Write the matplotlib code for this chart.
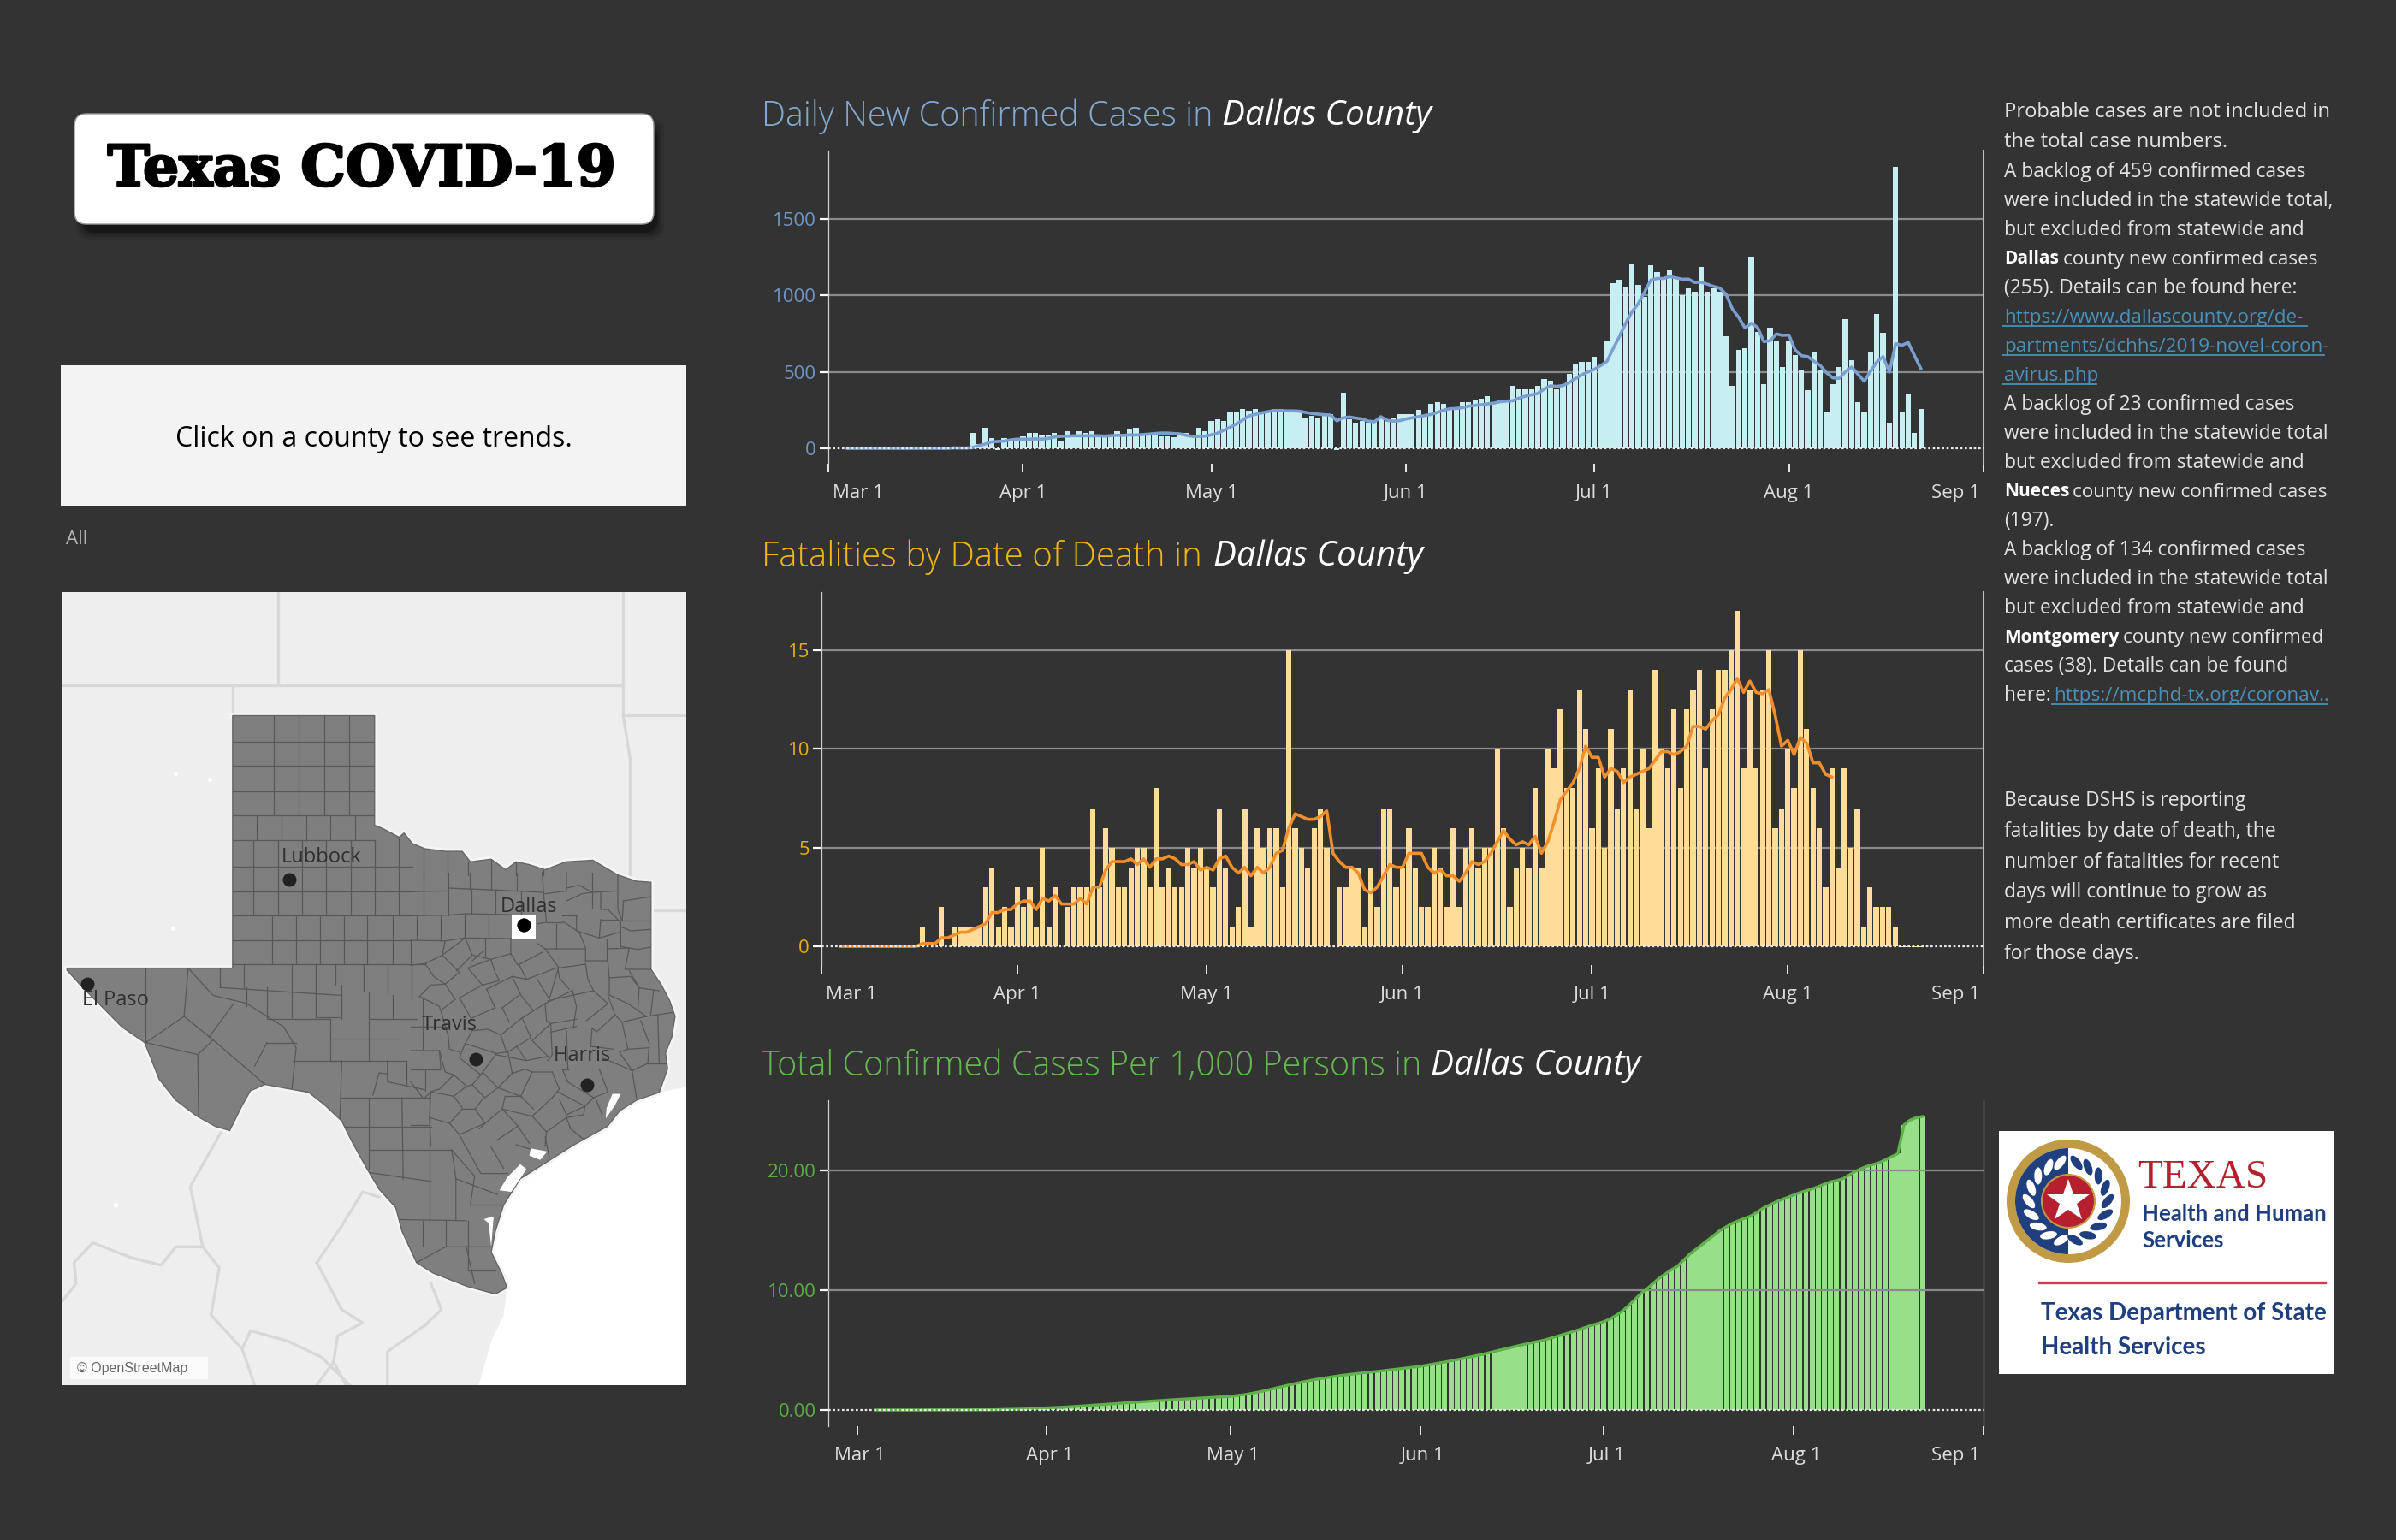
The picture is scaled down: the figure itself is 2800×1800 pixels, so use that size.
import numpy as np
import matplotlib
matplotlib.use('Agg')
import matplotlib.pyplot as plt
import matplotlib.patheffects as pe
from matplotlib.patches import FancyBboxPatch, Rectangle, Circle, Wedge, Ellipse, Polygon
from matplotlib.transforms import ScaledTranslation

plt.rcParams['font.family'] = ['Open Sans', 'DejaVu Sans']

W, H = 2800, 1800
BG = '#333333'

month_days = [0, 31, 61, 92, 122, 153, 184]
month_labels = ['Mar 1', 'Apr 1', 'May 1', 'Jun 1', 'Jul 1', 'Aug 1', 'Sep 1']

# days since Mar 1
case_days = np.arange(3, 175)
new_cases = [
    0, 0, 0, 0, 0, 0, 0, 0, 0, 0, 0, 0, 0, 0, 10, 3, 3, 10, 5, 3,
    100, 30, 133, 65, -10, 65, 60, 60, 78, 100, 100, 87, 87, 100, 45, 110, 70, 110, 100, 110,
    87, 70, 87, 110, 87, 122, 133, 87, 100, 100, 78, 78, 70, 100, 100, 70, 133, 110, 178, 189,
    178, 233, 233, 255, 244, 255, 240, 244, 255, 255, 240, 240, 240, 200, 210, 200, 218, 222, -10, 366,
    192, 167, 178, 167, 178, 205, 190, 198, 222, 222, 222,
    253, 216, 289, 300, 289, 263, 263, 300, 300, 311, 322, 344, 300, 311, 311, 411, 389, 389, 389, 411,
    455, 444, 389, 411, 489, 555, 566, 566, 600, 544, 700, 1078, 1100, 1055, 1211, 1067, 990, 1200, 1155, 1111,
    1167, 1111, 1000, 1044, 1022, 1189, 1022, 1044, 1022, 733, 411, 644, 655, 1255, 762, 422, 789, 700, 533, 700,
    611, 511, 378, 633, 511, 233, 422, 533, 844, 578, 300, 233, 633, 878, 755, 167, 1844, 233, 355, 100, 255]
cases_avg = [
    0, 0, 0, 0, 0, 0, 0, 0, 0, 0, 0, 0, 0, 0, 0, 0, 0, 3, 2, 2,
    5, 18, 28, 42, 45, 47, 55, 60, 60, 60, 62, 60, 65, 74, 78, 80, 82, 82, 82, 82,
    82, 80, 83, 85, 85, 88, 87, 90, 93, 97, 100, 100, 97, 95, 85, 78, 78, 80, 88, 100,
    118, 138, 160, 185, 212, 222, 232, 240, 247, 247, 245, 245, 243, 235, 228, 224, 220, 218, 180, 200,
    205, 198, 192, 178, 174, 207, 183, 178, 181, 192, 200,
    207, 215, 222, 235, 250, 259, 261, 266, 276, 281, 285, 291, 296, 305, 309, 311, 328, 341, 350, 359,
    387, 409, 405, 411, 430, 457, 481, 500, 517, 541, 568, 652, 731, 818, 893, 946, 1022, 1100, 1111, 1111,
    1124, 1115, 1106, 1107, 1085, 1087, 1074, 1059, 1048, 1007, 911, 856, 787, 818, 791, 698, 704, 748, 739, 741,
    643, 606, 600, 569, 541, 494, 461, 457, 500, 532, 485, 439, 504, 565, 600, 498, 685, 674, 693, 606, 522]

death_days = np.arange(3, 175)
deaths = [
    0, 0, 0, 0, 0, 0, 0, 0, 0, 0, 0, 0, 0,
    1, 0, 0, 2, 0, 1, 1, 1, 1, 1, 3, 4, 1, 2, 1, 3, 2, 3, 1, 5, 1, 3, 0, 2, 3, 3, 3, 7, 3, 6, 5, 3, 3, 4, 5, 5,
    3, 8, 3, 4, 3, 3, 5, 4, 5, 4, 3, 7, 4, 1, 2, 7, 1, 6, 5, 6, 6, 3, 15, 6, 5, 4, 6, 7, 5, 0, 3, 3, 4, 4, 1, 4,
    2, 7, 7, 3, 4, 6, 4, 2, 2, 5, 4, 2, 6, 2, 5, 6, 4, 5, 5, 10, 6, 2, 4, 5, 4, 8, 4, 10, 9, 12, 8, 8, 13, 11, 6,
    9, 5, 11, 7, 9, 13, 7, 10, 6, 14, 10, 9, 12, 8, 12, 13, 14, 9, 12, 14, 14, 15, 17, 9, 13, 9, 13, 15, 6, 7, 10,
    8, 15, 11, 8, 6, 3, 9, 4, 9, 5, 7, 1, 3, 2, 2, 2, 1, -0.05, -0.05, -0.05, -0.05]
avg_days = np.arange(3, 161)
deaths_avg = [
    0, 0, 0, 0, 0, 0, 0, 0, 0, 0, 0, 0, 0,
    0.14, 0.14, 0.14, 0.43, 0.43, 0.57, 0.71, 0.71, 0.86, 1.0, 1.14, 1.71, 1.71, 1.86, 1.86, 2.14, 2.29, 2.29,
    1.86, 2.43, 2.29, 2.57, 2.14, 2.14, 2.14, 2.43, 2.14, 3.0, 3.0, 3.86, 4.29, 4.29, 4.29, 4.43, 4.14, 4.43, 4.0,
    4.43, 4.43, 4.57, 4.43, 4.14, 4.14, 4.29, 3.86, 4.0, 3.86, 4.43, 4.57, 4.0, 3.71, 4.0, 3.57, 4.0, 3.71, 4.0,
    4.71, 4.86, 6.0, 6.71, 6.57, 6.43, 6.43, 6.57, 6.86, 4.71, 4.29, 4.0, 4.0, 3.71, 2.86, 2.71, 3.0, 3.57, 4.14,
    4.0, 4.0, 4.71, 4.71, 4.71, 4.0, 3.71, 3.86, 3.57, 3.57, 3.29, 3.71, 4.29, 4.14, 4.29, 4.71, 5.29, 5.86, 5.43,
    5.14, 5.29, 5.14, 5.57, 4.71, 5.29, 6.29, 7.43, 7.86, 8.29, 9.0, 10.14, 9.57, 9.57, 8.57, 9.0, 8.86, 8.29,
    8.57, 8.71, 8.86, 9.0, 9.43, 9.86, 9.86, 9.71, 9.86, 10.14, 11.14, 11.14, 11.0, 11.43, 11.71, 12.57, 13.0,
    13.57, 12.86, 13.43, 12.86, 12.79, 13.0, 11.71, 10.14, 10.43, 9.71, 10.57, 10.29, 9.29, 9.29, 8.71, 8.57]

total_days = np.arange(3, 175)
total_per_1000 = [
    0, 0, 0, 0, 0, 0, 0, 0, 0, 0.01, 0.01, 0.01, 0.01, 0.01, 0.01, 0.01, 0.02, 0.02, 0.02, 0.02,
    0.03, 0.05, 0.06, 0.07, 0.08, 0.10, 0.12, 0.15, 0.18,
    0.2, 0.22, 0.25, 0.28, 0.31, 0.34, 0.38, 0.42, 0.45, 0.49, 0.52, 0.56, 0.6, 0.63, 0.67,
    0.7, 0.74, 0.77, 0.8, 0.84, 0.87, 0.9, 0.93, 0.96, 0.99, 1.02, 1.05, 1.08, 1.11, 1.14,
    1.2, 1.26, 1.34, 1.44, 1.54, 1.66, 1.78, 1.9, 2.02, 2.14, 2.26,
    2.36, 2.46, 2.56, 2.64, 2.72, 2.8, 2.88, 2.94,
    3.0, 3.06, 3.12, 3.17, 3.22, 3.28, 3.34, 3.4, 3.46, 3.52, 3.58, 3.64,
    3.73, 3.82, 3.91, 4.0, 4.1, 4.2, 4.3,
    4.41, 4.52, 4.63, 4.75, 4.87, 5.0,
    5.12, 5.24, 5.36, 5.48, 5.6, 5.7, 5.8,
    5.95, 6.1, 6.25, 6.4, 6.55, 6.72, 6.9, 7.07, 7.22, 7.38,
    7.6, 7.9, 8.25, 8.7, 9.2, 9.7, 10.1,
    10.55, 11.0, 11.35, 11.7, 12.0,
    12.5, 13.0, 13.4, 13.8, 14.2, 14.6, 15.0,
    15.3, 15.6, 15.8, 16.0, 16.2, 16.5,
    16.85, 17.1, 17.35, 17.55, 17.75, 17.95,
    18.15, 18.3, 18.45, 18.65, 18.85, 19.05, 19.15,
    19.3, 19.6, 19.9, 20.15, 20.35,
    20.5, 20.65, 20.9, 21.15, 21.4,
    23.8, 24.2, 24.4, 24.5]

# map is drawn in its own units
texas_x = [437, 779, 779, 800, 838, 850, 870, 900, 950, 990, 1010, 1060, 1095, 1120, 1150, 1190, 1240, 1305, 1365, 1410,
           1445, 1445, 1470, 1490, 1503, 1495, 1480, 1485, 1465, 1410, 1370, 1340, 1260, 1190, 1130, 1090, 1070, 1060,
           1085, 1098, 1070, 1000, 920, 880, 845, 830, 790, 760, 725, 700, 660, 620, 570, 515, 480, 460, 430, 395, 350,
           300, 260, 225, 170, 120, 70, 38, 38, 437]
texas_y = [256, 256, 465, 472, 488, 480, 500, 510, 515, 515, 535, 530, 550, 535, 540, 550, 535, 532, 560, 572,
           574, 740, 770, 800, 830, 870, 900, 930, 975, 990, 1010, 1040, 1075, 1110, 1140, 1190, 1240, 1280,
           1320, 1348, 1360, 1345, 1320, 1300, 1240, 1195, 1160, 1120, 1070, 1030, 1000, 975, 968, 960, 972, 1000, 1048,
           1040, 1020, 990, 950, 880, 850, 810, 770, 742, 738, 738]
gulf_x = [1530, 1465, 1410, 1370, 1340, 1260, 1190, 1130, 1090, 1070, 1060, 1085, 1098, 1090, 1060, 1030, 1530]
gulf_y = [965, 975, 990, 1010, 1040, 1075, 1110, 1140, 1190, 1240, 1280, 1320, 1348, 1400, 1450, 1534, 1534]
lagoons = [
    [(1338, 1005), (1352, 978), (1372, 978), (1358, 1000), (1336, 1025)],
    [(1155, 1082), (1195, 1088), (1178, 1104), (1152, 1096)],
    [(1098, 1138), (1130, 1112), (1145, 1122), (1108, 1165), (1080, 1162)],
    [(1042, 1217), (1066, 1212), (1060, 1270), (1054, 1225)]]
lake_x = [300, 382, 292, 155]
lake_y = [366, 378, 662, 1190]
border_lines = [
    [(547, 20), (547, 195)], [(25, 198), (1378, 198)], [(1378, 20), (1378, 250)], [(1378, 255), (1530, 255)],
    [(1378, 255), (1395, 340), (1395, 570)], [(437, 198), (437, 256)], [(1445, 628), (1530, 628)],
    [(410, 1050), (335, 1155), (365, 1270), (405, 1310), (385, 1400), (460, 1465), (480, 1430), (570, 1450),
     (650, 1480), (720, 1534)],
    [(25, 1375), (60, 1340), (55, 1300), (100, 1262), (190, 1290), (265, 1305), (300, 1270), (365, 1270)],
    [(640, 1300), (700, 1230), (750, 1165), (790, 1175)],
    [(640, 1300), (700, 1390), (750, 1415), (690, 1440), (680, 1490), (640, 1534)],
    [(810, 1534), (810, 1470), (900, 1420), (940, 1390), (915, 1340)],
    [(460, 1465), (490, 1534)], [(680, 1490), (710, 1534)]]
county_lines = [
    [(437, 305), (779, 305)], [(437, 352), (779, 352)], [(437, 400), (779, 400)], [(437, 447), (779, 447)],
    [(437, 494), (779, 494)], [(437, 545), (870, 545)], [(437, 592), (870, 592)], [(437, 638), (870, 638)],
    [(437, 684), (870, 684)], [(437, 730), (900, 730)],
    [(537, 256), (537, 447)], [(597, 256), (597, 447)], [(657, 256), (657, 447)], [(718, 256), (718, 447)],
    [(495, 447), (495, 494)], [(555, 447), (555, 494)], [(615, 447), (615, 494)], [(672, 447), (672, 494)],
    [(732, 447), (732, 494)], [(487, 494), (487, 638)], [(547, 494), (547, 638)], [(605, 494), (605, 638)],
    [(663, 494), (663, 638)], [(722, 494), (722, 638)], [(780, 494), (780, 638)], [(838, 488), (838, 638)],
    [(897, 510), (897, 560)], [(955, 515), (955, 560)], [(1005, 535), (1005, 560)], [(1060, 530), (1060, 560)],
    [(1120, 535), (1120, 560)], [(1185, 550), (1185, 560)],
    [(532, 638), (532, 730)], [(590, 638), (590, 730)], [(648, 638), (648, 730)], [(705, 638), (705, 730)],
    [(762, 638), (762, 730)], [(822, 638), (822, 730)],
    [(465, 730), (465, 775)], [(580, 730), (580, 832)], [(637, 730), (637, 832)], [(685, 730), (685, 770)],
    [(752, 730), (752, 782)], [(810, 730), (810, 790)], [(868, 730), (868, 795)], [(520, 775), (520, 835)],
    [(407, 738), (407, 775)], [(407, 775), (700, 790)], [(470, 775), (470, 810)], [(700, 770), (700, 835)],
    [(637, 832), (700, 832)], [(520, 835), (672, 835)], [(672, 835), (672, 915)], [(672, 872), (835, 872)],
    [(672, 915), (855, 915)], [(765, 782), (765, 915)], [(765, 835), (880, 835)], [(822, 790), (822, 835)],
    [(228, 738), (228, 880)], [(330, 738), (320, 830), (228, 880)], [(320, 830), (390, 875)], [(440, 805), (380, 870)],
    [(390, 875), (353, 903), (228, 880)], [(353, 903), (355, 1020)], [(390, 875), (515, 960)],
    [(330, 738), (390, 790), (470, 805), (560, 850), (590, 890), (580, 968)], [(520, 880), (590, 880)],
    [(520, 880), (490, 925)], [(582, 915), (700, 915)], [(700, 915), (695, 1040)],
    [(700, 985), (905, 985)], [(765, 985), (765, 1120)], [(845, 985), (848, 1140)], [(700, 1040), (915, 1040)],
    [(765, 1085), (965, 1085)], [(765, 1128), (915, 1145)], [(912, 975), (912, 1220)], [(775, 980), (790, 938), (810, 940)],
    [(810, 915), (810, 955), (900, 970)], [(855, 915), (855, 960)],
    [(965, 1085), (975, 1140), (975, 1220)], [(840, 1218), (1000, 1220)], [(895, 1220), (895, 1270)],
    [(950, 1220), (950, 1270)], [(1005, 1220), (1005, 1315)], [(880, 1300), (950, 1270), (1060, 1270)],
    [(975, 1140), (1075, 1170)], [(1010, 1190), (1085, 1190)], [(1000, 1270), (1020, 1340)],
    [(1005, 1315), (1070, 1315)], [(1000, 1080), (1035, 1130), (1100, 1130)], [(965, 1085), (1020, 1135), (1010, 1190)],
    [(1060, 1080), (1090, 1120)], [(1120, 1075), (1160, 1085)], [(1190, 1060), (1200, 1100)]]
east_lines = [
    [(0, 68), (130, 65)], [(130, 55), (300, 62), (460, 70)], [(0, 152), (130, 150), (190, 145), (350, 148)],
    [(0, 238), (120, 240), (190, 230), (355, 232)], [(45, 0), (45, 152)], [(130, 0), (130, 150)], [(205, 0), (205, 58)],
    [(282, 0), (282, 60)], [(370, 0), (370, 65)], [(460, 0), (465, 75)], [(212, 62), (212, 145)], [(297, 62), (297, 145)],
    [(385, 65), (385, 148)], [(20, 155), (20, 238)], [(105, 152), (105, 238)], [(188, 148), (188, 230)], [(272, 148), (272, 232)],
    [(470, 75), (545, 65), (545, 0)], [(465, 75), (475, 175), (445, 180)], [(475, 175), (530, 175)],
    [(545, 55), (590, 45), (635, 70), (725, 65)], [(635, 0), (635, 125)], [(725, 0), (725, 130), (740, 170)],
    [(665, 70), (665, 130), (690, 130), (725, 165)], [(545, 100), (600, 75), (635, 70)], [(745, 100), (840, 85)],
    [(745, 100), (740, 170)], [(730, 170), (840, 170)], [(735, 190), (770, 205), (840, 200)],
    [(735, 170), (735, 260), (795, 270), (840, 262)], [(665, 165), (730, 165)], [(665, 165), (660, 230)],
    [(580, 155), (580, 205), (660, 230), (730, 210)], [(530, 150), (580, 150)], [(530, 170), (590, 210)],
    [(510, 180), (510, 268)], [(590, 210), (612, 265), (612, 310)], [(445, 250), (470, 268), (612, 268)],
    [(687, 235), (687, 310)], [(687, 268), (765, 265), (750, 340), (840, 340)],
    [(612, 310), (690, 310), (695, 370), (770, 365), (800, 405), (870, 415)],
    [(470, 268), (515, 330), (520, 335), (612, 322)], [(612, 322), (620, 375), (640, 415), (570, 430), (565, 410)],
    [(515, 335), (520, 370), (555, 410)], [(695, 370), (695, 430), (760, 460), (825, 505)],
    [(765, 345), (800, 405), (795, 480)], [(850, 415), (840, 500)], [(690, 430), (715, 500), (740, 525), (825, 505), (925, 490)],
    [(865, 500), (870, 670), (895, 670)], [(830, 670), (895, 670)], [(805, 520), (835, 600), (830, 670)],
    [(740, 525), (760, 620), (835, 615)], [(760, 620), (730, 630), (775, 695), (830, 670)], [(775, 695), (790, 790)],
    [(775, 695), (670, 650)], [(715, 500), (650, 560), (635, 545), (630, 610)], [(615, 520), (690, 460)], [(640, 415), (690, 460)],
    [(570, 430), (480, 450)], [(570, 430), (580, 470), (570, 540)],
    [(565, 415), (470, 460), (390, 510), (315, 570)], [(470, 460), (475, 520), (490, 530), (580, 515)],
    [(490, 530), (495, 640), (480, 660)], [(580, 540), (490, 560)], [(545, 555), (550, 690)], [(630, 610), (710, 620)],
    [(390, 510), (420, 580)], [(420, 580), (340, 630)], [(315, 570), (335, 630)], [(315, 570), (270, 550), (215, 555), (190, 600)],
    [(190, 600), (170, 650), (245, 710), (300, 635), (190, 600)], [(300, 635), (340, 630), (355, 705)],
    [(300, 640), (405, 660), (480, 645), (425, 590), (490, 530)], [(405, 660), (370, 610)],
    [(245, 710), (215, 745), (260, 790), (305, 755), (255, 705)], [(305, 755), (355, 705), (400, 690), (425, 700), (495, 700)],
    [(425, 700), (385, 785), (305, 755)], [(495, 700), (520, 760), (495, 790)],
    [(530, 690), (550, 735), (640, 790), (690, 770), (660, 690)], [(550, 690), (530, 690)],
    [(515, 770), (610, 820), (640, 790)], [(610, 820), (545, 850), (520, 795)],
    [(0, 325), (50, 320)], [(50, 320), (80, 365), (120, 392), (170, 350), (110, 290), (50, 320)], [(0, 238), (0, 325)],
    [(120, 240), (110, 290), (190, 230)], [(190, 230), (215, 290), (160, 345)], [(215, 290), (280, 305)], [(260, 232), (260, 295)],
    [(215, 310), (255, 275)], [(350, 232), (350, 285), (375, 325), (460, 280)],
    [(350, 285), (280, 305), (295, 350), (310, 380), (250, 395), (200, 335), (280, 305)], [(380, 325), (405, 375), (510, 335)],
    [(405, 375), (355, 365), (265, 410)], [(355, 365), (385, 430), (425, 480)], [(443, 375), (485, 445), (515, 340)],
    [(380, 430), (320, 475)], [(265, 410), (295, 475)], [(170, 440), (250, 395)], [(120, 392), (70, 395), (30, 435)],
    [(120, 392), (155, 445)], [(170, 440), (210, 510)], [(155, 445), (110, 480)],
    [(30, 435), (100, 470), (130, 570), (135, 620), (170, 630)], [(295, 475), (215, 510)], [(320, 475), (345, 525)],
    [(40, 440), (40, 620)], [(0, 540), (130, 540)], [(0, 625), (100, 625), (105, 690)], [(100, 625), (120, 700), (150, 710)],
    [(0, 690), (100, 690)], [(50, 695), (50, 765)], [(150, 710), (100, 760), (70, 768), (45, 795), (0, 735)],
    [(150, 710), (195, 750), (150, 785), (180, 825)], [(150, 785), (70, 770), (65, 860), (135, 880)], [(215, 745), (195, 750)],
    [(180, 830), (225, 830), (255, 790)], [(180, 830), (135, 880), (170, 920)], [(225, 830), (260, 880), (170, 920)],
    [(330, 785), (320, 830), (260, 880), (240, 900)], [(385, 785), (330, 785)], [(320, 830), (375, 890)], [(320, 830), (425, 855)],
    [(385, 785), (430, 830)], [(495, 790), (425, 855)], [(425, 855), (475, 910), (545, 860)], [(475, 910), (470, 960)],
    [(375, 890), (415, 950)], [(375, 890), (300, 940)], [(0, 790), (65, 790)], [(0, 885), (65, 885)], [(65, 860), (70, 960)],
    [(170, 920), (190, 960)], [(545, 860), (560, 900), (610, 940)], [(610, 820), (605, 850), (545, 860)], [(670, 850), (650, 800)]]
city_names = ['Lubbock', 'Dallas', 'El Paso', 'Travis', 'Harris']
city_x = [573, 1138, 87, 1023, 1291]
city_y = [568, 656, 768, 911, 960]
city_label_x = [555, 1083, 75, 893, 1210]
city_label_y = [526, 621, 799, 847, 906]

note_lines = ['Probable cases are not included in', 'the total case numbers.',
              'A backlog of 459 confirmed cases', 'were included in the statewide total,',
              'but excluded from statewide and', None, '(255). Details can be found here:',
              None, None, None,
              'A backlog of 23 confirmed cases', 'were included in the statewide total',
              'but excluded from statewide and', None, '(197).',
              'A backlog of 134 confirmed cases', 'were included in the statewide total',
              'but excluded from statewide and', None, 'cases (38). Details can be found', 'here:']
note_y = [131, 166, 201, 235, 269, 303, 337, 371, 405, 439, 473, 507, 541, 575, 609, 643, 677, 711, 745, 779, 813]
dshs_lines = ['Because DSHS is reporting', 'fatalities by date of death, the', 'number of fatalities for recent',
              'days will continue to grow as', 'more death certificates are filed', 'for those days.']
dshs_y = [936, 972, 1008, 1043, 1079, 1115]

fig = plt.figure(figsize=(W / 100, H / 100), dpi=100, facecolor=BG)


def px_axes(left, top, right, bottom, **kw):
    return fig.add_axes([left / W, 1 - bottom / H, (right - left) / W, (bottom - top) / H], **kw)


page = px_axes(0, 0, W, H)
page.set_xlim(0, W)
page.set_ylim(H, 0)
page.axis('off')


def chart(top, bottom, left, x0, y0, y_scale, yticks, yfmt, ycolor, bar_x, bar_y, bar_color, bar_w,
          line_x, line_y, line_color, line_w, first_centered=False):
    right = 2318
    ax = px_axes(left, top, right, bottom, facecolor='none')
    px_day = (right - x0) / 184
    ax.set_xlim((left - x0) / px_day, 184)
    ax.set_ylim((y0 - bottom) / y_scale, (y0 - top) / y_scale)
    ax.bar(bar_x, bar_y, width=bar_w, color=bar_color, zorder=2)
    ax.plot(line_x, line_y, color=line_color, lw=line_w, zorder=4, solid_joinstyle='round')
    for v in yticks[1:]:
        ax.axhline(v, color='#8a8a8a', lw=1.6, zorder=3 if bar_color == '#98df8a' else 1)
    ax.axhline(0, color='#e8e8e8', lw=1.6, ls=(0, (1.2, 1.2)), zorder=5)
    for s in ['top', 'bottom']:
        ax.spines[s].set_visible(False)
    ax.spines['left'].set_color('#cfcfcf')
    ax.spines['left'].set_linewidth(0.9)
    ax.spines['right'].set_color('#bdbdbd')
    ax.spines['right'].set_linewidth(1.5 if not first_centered else 0.9)
    ax.set_yticks(yticks)
    ax.set_yticklabels([yfmt % v for v in yticks], color=ycolor, fontsize=16)
    ax.tick_params(axis='y', length=7, width=1.6, color='white', pad=3)
    ax.set_xticks(month_days)
    ax.set_xticklabels(month_labels, color='#dcdcdc', fontsize=16)
    ax.tick_params(axis='x', length=7, width=1.4, color='#e8e8e8', pad=10.5)
    labels = ax.get_xticklabels()
    if first_centered:
        for lab in labels[:-1]:
            lab.set_transform(lab.get_transform() + ScaledTranslation(3 / 100, 0, fig.dpi_scale_trans))
    else:
        labels[0].set_ha('left')
        labels[0].set_transform(labels[0].get_transform() + ScaledTranslation(5 / 100, 0, fig.dpi_scale_trans))
    labels[-1].set_ha('right')
    labels[-1].set_transform(labels[-1].get_transform() + ScaledTranslation(-4 / 100, 0, fig.dpi_scale_trans))
    return ax


chart(176, 542, 968, 968, 524, 89.33 / 500, [0, 500, 1000, 1500], '%d', '#6f95c4',
      case_days, new_cases, '#c6eef3', 0.85, case_days, cases_avg, '#7a9fd0', 2.6)
chart(692, 1128, 960, 960, 1106, 23.07, [0, 5, 10, 15], '%d', '#e5ac0f',
      death_days, deaths, '#ffdc97', 0.85, avg_days, deaths_avg, '#f28e2b', 2.6)
chart(1286, 1667, 968, 1001.6, 1648, 14.0, [0, 10, 20], '%.2f', '#5cab46',
      total_days, total_per_1000, '#98df8a', 0.82, total_days, total_per_1000, '#5fb14a', 2.4, first_centered=True)

# titles
italic_size = 29
page.text(890, 136, 'Daily New Confirmed Cases in', color='#84a8d2', fontsize=28.5, weight='light', va='center')
page.text(1428, 136, 'Dallas County', color='white', fontsize=italic_size, va='center', style='italic')
page.text(890, 651, 'Fatalities by Date of Death in', color='#f0b616', fontsize=29, weight='light', va='center')
page.text(1418, 651, 'Dallas County', color='white', fontsize=italic_size, va='center', style='italic')
page.text(890, 1246, 'Total Confirmed Cases Per 1,000 Persons in', color='#63b94d', fontsize=28.5, weight='light', va='center')
page.text(1672, 1246, 'Dallas County', color='white', fontsize=italic_size, va='center', style='italic')

# header box, shadow built from stacked boxes
for grow, a in [(8, 0.12), (5, 0.18), (2, 0.25), (0, 0.35)]:
    page.add_patch(FancyBboxPatch((97 - grow, 147 - grow), 671 + 2 * grow, 125 + 2 * grow,
                                  boxstyle='round,pad=0,rounding_size=16', fc='#0a0a0a', ec='none', alpha=a))
page.add_patch(FancyBboxPatch((87, 133), 677, 129, boxstyle='round,pad=0,rounding_size=14', fc='white', ec='#999999', lw=1))
page.text(423, 199, 'Texas COVID-19', family='DejaVu Serif', weight='bold', fontsize=47.5, color='black', ha='center', va='center',
          path_effects=[pe.withStroke(linewidth=2, foreground='black')])

# click box
page.add_patch(Rectangle((71, 427), 731, 164, fc='#f3f3f3', ec='none'))
page.text(437, 514, 'Click on a county to see trends.', color='black', fontsize=23, ha='center', va='center')
page.text(77, 630, 'All', color='#b5b5b5', fontsize=16, va='center')

# map
m = px_axes(72, 692, 802, 1619, facecolor='#eeeeee')
m.set_xlim(25, 1530)
m.set_ylim(1534, 20)
m.set_xticks([])
m.set_yticks([])
for s in m.spines.values():
    s.set_visible(False)
m.add_patch(Polygon(np.column_stack([gulf_x, gulf_y]), fc='white', ec='none', zorder=1))
for seg in border_lines:
    xy = np.array(seg)
    m.plot(xy[:, 0], xy[:, 1], color='#d8d8d8', lw=2.4, zorder=2)
m.plot(lake_x, lake_y, 'o', color='white', ms=4, mew=0, zorder=2)
m.plot(texas_x, texas_y, color='#f5f5f5', lw=5, zorder=3)
texas = Polygon(np.column_stack([texas_x, texas_y]), fc='#7f7f7f', ec='#666666', lw=1, zorder=4)
m.add_patch(texas)
for seg in county_lines:
    xy = np.array(seg)
    ln, = m.plot(xy[:, 0], xy[:, 1], color='#585858', lw=0.9, zorder=5)
    ln.set_clip_path(texas)
for seg in east_lines:
    xy = np.array(seg)
    ln, = m.plot(866.5 + 0.6877 * xy[:, 0], 555.2 + 0.5443 * xy[:, 1], color='#585858', lw=0.9, zorder=5)
    ln.set_clip_path(texas)
for seg in lagoons:
    m.add_patch(Polygon(np.array(seg), fc='white', ec='none', zorder=6))
m.add_patch(Rectangle((1110, 636), 58, 46, fc='white', ec='none', zorder=6))
m.plot(city_x, city_y, 'o', color='#222222', ms=11.5, mew=0, zorder=7)
m.plot(city_x[1], city_y[1], 'o', color='black', ms=11.5, mew=0, zorder=8)
for name, lx, ly in zip(city_names, city_label_x, city_label_y):
    m.text(lx, ly, name, color='#303030', fontsize=17, va='center', zorder=9)
m.add_patch(Rectangle((45, 1480), 333, 42, fc='white', ec='none', alpha=0.8, zorder=9))
m.text(62, 1502, '© OpenStreetMap', family='Liberation Sans', color='#666666', fontsize=11.5, va='center', zorder=10)

# notes on the right
NOTE_X = 2342
for i, (txt, y) in enumerate(zip(note_lines, note_y)):
    if txt is None:
        continue
    page.text(NOTE_X, y, txt, color='#e2e2e2', fontsize=17.1 if i < 2 else 16.4, va='center')
bold_runs = [(303, 'Dallas', 2411), (575, 'Nueces', 2422), (745, 'Montgomery', 2481)]
for y, name, nx in bold_runs:
    page.text(NOTE_X, y, name, color='white', fontsize=15, weight='bold', va='center')
    tail = 'county new confirmed cases' if name != 'Montgomery' else 'county new confirmed'
    page.text(nx, y, tail, color='#e2e2e2', fontsize=16.2, va='center')
LINK = '#4a90b8'
link_rows = [(NOTE_X, 371, 'https://www.dallascounty.org/de-', 2696),
             (NOTE_X, 405, 'partments/dchhs/2019-novel-coron-', 2716),
             (NOTE_X, 439, 'avirus.php', 2450),
             (2400, 813, 'https://mcphd-tx.org/coronav..', 2720)]
for lx, y, txt, end in link_rows:
    page.text(lx, y, txt, color=LINK, fontsize=16.2, va='center')
    page.plot([lx - 2, end], [y + 10, y + 10], color=LINK, lw=1.3)
for txt, y in zip(dshs_lines, dshs_y):
    page.text(NOTE_X, y, txt, color='#e2e2e2', fontsize=16.5, va='center')

# logo
logo = px_axes(2336, 1322, 2728, 1606, facecolor='white')
logo.set_xlim(2336, 2728)
logo.set_ylim(1606, 1322)
logo.set_xticks([])
logo.set_yticks([])
for s in logo.spines.values():
    s.set_visible(False)
NAVY = '#1f3f7f'
RED = '#b61f2d'
logo.add_patch(Circle((2417, 1404), 72, fc='#c09a45', ec='none'))
logo.add_patch(Circle((2417, 1404), 62, fc='white', ec='none'))
logo.add_patch(Wedge((2417, 1404), 62, 90, 270, fc=NAVY, ec='none'))
leaf_angles = [100, 120, 140, 160, 180, 200, 220, 240, 258]
for a in leaf_angles:
    rad = np.deg2rad(a)
    logo.add_patch(Ellipse((2417 + 46 * np.cos(rad), 1404 + 46 * np.sin(rad)), 20, 9, angle=a + 50, fc='white', ec='none'))
    rad2 = np.deg2rad(180 - a)
    logo.add_patch(Ellipse((2417 + 46 * np.cos(rad2), 1404 + 46 * np.sin(rad2)), 20, 9, angle=130 - a, fc=NAVY, ec='none'))
logo.add_patch(Circle((2417, 1404), 31, fc=RED, ec='#c09a45', lw=1.5))
logo.plot(2417, 1404, marker='*', ms=38, color='white', mew=0)
logo.text(2574, 1377, 'TEXAS', family='Liberation Serif', color=RED, fontsize=34, ha='center', va='center')
logo.text(2503, 1419, 'Health and Human', family='Lato', color=NAVY, fontsize=18.5, weight='bold', va='center')
logo.text(2503, 1450, 'Services', family='Lato', color=NAVY, fontsize=18.5, weight='bold', va='center')
logo.plot([2383, 2717], [1499, 1499], color='#c9414e', lw=2.4)
logo.text(2385, 1535, 'Texas Department of State', family='Lato', color=NAVY, fontsize=20, weight='bold', va='center')
logo.text(2385, 1575, 'Health Services', family='Lato', color=NAVY, fontsize=20, weight='bold', va='center')

fig.savefig('out.png', dpi=100, facecolor=BG)
